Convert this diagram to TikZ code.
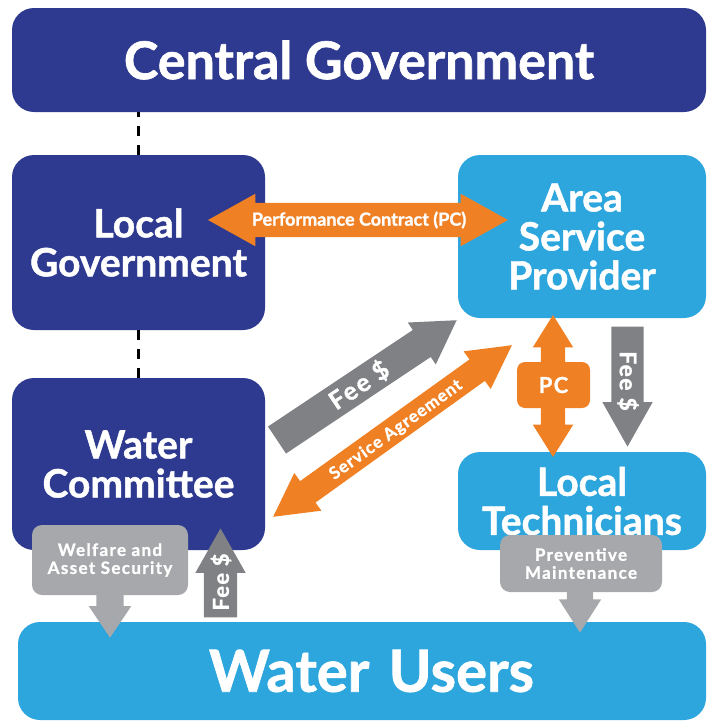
\documentclass[tikz,border=0pt]{standalone}
\usepackage{fontspec}
\setmainfont{Lato}[BoldFeatures={FakeBold=1.2}]
\usetikzlibrary{shapes.arrows,positioning}

\definecolor{govblue}{HTML}{2E3A8F}
\definecolor{provblue}{HTML}{2DA6DE}
\definecolor{pcorange}{HTML}{F08024}
\definecolor{feegray}{HTML}{808184}
\definecolor{notegray}{HTML}{A7A8AB}

\newcommand{\titlefont}{\bfseries\fontsize{52}{56}\selectfont}
\newcommand{\boxfont}{\bfseries\fontsize{39}{39}\selectfont}
\newcommand{\tagfont}{\bfseries\fontsize{18}{20}\selectfont}
\newcommand{\notefont}{\bfseries\fontsize{17}{18}\selectfont\addfontfeature{LetterSpace=8}}

\tikzset{
    box/.style={rounded corners=22pt,text=white,align=center,inner sep=0pt,font=\boxfont},
    gov/.style={box,fill=govblue},
    prov/.style={box,fill=provblue},
    note/.style={fill=notegray,rounded corners=10pt,text=white,align=center,inner sep=0pt,font=\notefont},
    fee/.style={single arrow,fill=feegray,inner xsep=0pt,anchor=tip},
    notearrow/.style={single arrow,fill=notegray,inner xsep=0pt,anchor=tip},
    deal/.style={double arrow,fill=pcorange,inner xsep=0pt},
    tag/.style={text=white,inner sep=0pt,font=\tagfont},
    link/.style={dashed,dash pattern=on 10pt off 9pt,line width=2.2pt}
}

\begin{document}
\begin{tikzpicture}[x=1pt,y=-1pt]
    \useasboundingbox (0,0) rectangle (717,723);
    % the boxes
    \node[gov,minimum width=694,minimum height=104,font=\titlefont] (central) at (359,60) {Central Government};
    \node[gov,minimum width=253,minimum height=175] (localgov) at (138.5,242.5) {Local\\Government};
    \node[prov,minimum width=248,minimum height=163] (provider) at (582,236.5) {Area\\Service\\Provider};
    \node[gov,minimum width=253,minimum height=172] (committee) at (138.5,464) {Water\\Committee};
    \node[prov,minimum width=248,minimum height=98] (techs) at (582,501) {Local\\Technicians};
    \node[prov,minimum width=688,minimum height=98,text width=668,align=right,font=\bfseries\fontsize{58}{60}\selectfont] (users) at (362,671) {Water Users\hspace*{162pt}};

    \draw[link] (localgov.north) -- (localgov.north |- central.south);
    \draw[link] (localgov.south) -- (committee.north);

    % contracts and agreements
    \node[deal,minimum height=300,inner ysep=17pt,double arrow head extend=9pt,double arrow tip angle=58] (contract) at (358,220) {};
    \node[tag] (contracttext) at (359,220) {Performance Contract (PC)};
    \node[deal,rotate=35.7,minimum height=294,inner ysep=13pt,double arrow head extend=10pt,double arrow tip angle=57] (agreement) at (392.5,431) {};
    \node[tag,rotate=35.7,font=\bfseries\fontsize{17}{19}\selectfont\addfontfeature{LetterSpace=6}] (agreementtext) at (396,430) {Service Agreement};
    \node[deal,rotate=90,minimum height=142,inner ysep=12pt,double arrow head extend=8pt,double arrow tip angle=64] (pcline) at (553,386) {};
    \node[tag,fill=pcorange,rounded corners=8pt,minimum width=73,minimum height=46,font=\bfseries\fontsize{22}{23}\selectfont\addfontfeature{LetterSpace=6}] (pc) at (553.5,385) {PC};

    % fees
    \node[fee,rotate=33.7,minimum height=216,inner ysep=16pt,single arrow head extend=9pt,single arrow tip angle=62] (feeup) at (457,320) {};
    \node[tag,rotate=33.7,font=\bfseries\fontsize{25}{27}\selectfont\addfontfeature{LetterSpace=8}] (feeuptext) at (359,385) {Fee \$};
    \node[fee,rotate=-90,minimum height=120,inner ysep=16pt,single arrow head extend=9pt,single arrow tip angle=59] (feedown) at (627.5,447) {};
    \node[tag,rotate=-90,font=\bfseries\fontsize{23}{25}\selectfont\addfontfeature{LetterSpace=6}] (feedowntext) at (628,381) {Fee \$};
    \node[fee,rotate=90,minimum height=89,inner ysep=16.5pt,single arrow head extend=8.5pt,single arrow tip angle=59] (feeusers) at (220.5,528) {};
    \node[tag,rotate=90,font=\bfseries\fontsize{22}{24}\selectfont\addfontfeature{LetterSpace=6}] (feeuserstext) at (221,582) {Fee \$};

    % duties towards the users
    \node[notearrow,rotate=-90,minimum height=56,inner ysep=13.5pt,single arrow head extend=7.5pt,single arrow tip angle=68] (welfarearrow) at (110,638) {};
    \node[note,minimum width=156,minimum height=70] (welfare) at (110,560) {Welfare and\\Asset Security};
    \node[notearrow,rotate=-90,minimum height=53,inner ysep=13pt,single arrow head extend=8pt,single arrow tip angle=65] (upkeeparrow) at (580,633) {};
    \node[note,minimum width=162,minimum height=57] (upkeep) at (581,563.5) {Preventive\\Maintenance};
\end{tikzpicture}
\end{document}
